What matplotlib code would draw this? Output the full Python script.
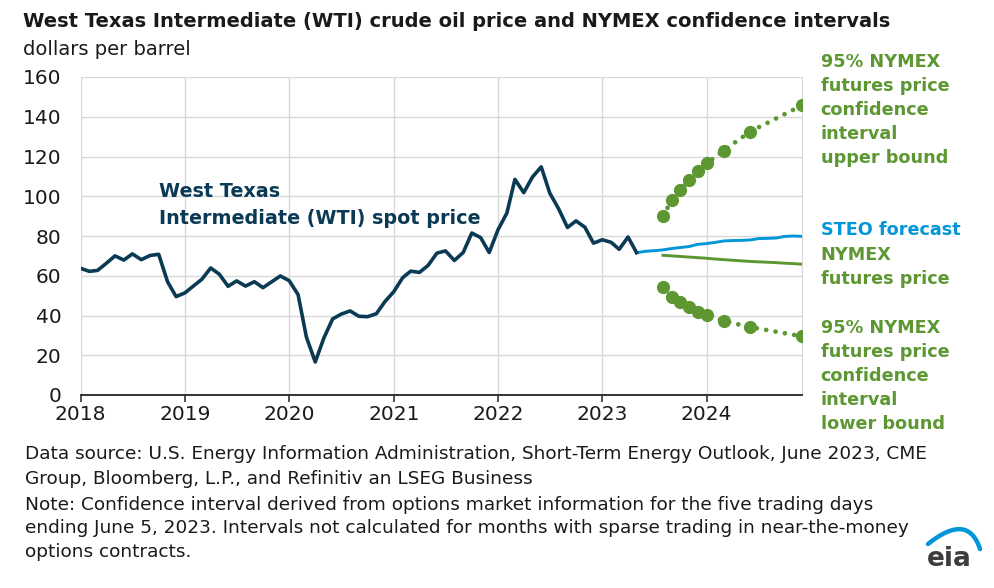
#!/usr/bin/env python3

import matplotlib
matplotlib.use("Agg")
import matplotlib.pyplot as plt
import matplotlib.dates as mdates
import numpy as np
import pandas as pd

# monthly WTI spot price, Jan 2018 - May 2023
wti_months = pd.date_range("2018-01-01", "2023-05-01", freq="MS")
wti_price = [
    63.7, 62.2, 62.7, 66.3, 70.0, 67.9, 71.0, 68.1, 70.2, 70.8, 57.0, 49.5,
    51.4, 55.0, 58.2, 63.9, 60.8, 54.7, 57.4, 54.8, 57.0, 54.0, 57.0, 59.9,
    57.5, 50.5, 29.2, 16.6, 28.6, 38.3, 40.7, 42.3, 39.6, 39.4, 40.9, 47.0,
    52.0, 59.0, 62.3, 61.7, 65.2, 71.4, 72.5, 67.7, 71.7, 81.5, 79.2, 71.7,
    83.2, 91.6, 108.5, 101.8, 109.6, 114.8, 101.6, 93.7, 84.3, 87.6, 84.4, 76.4,
    78.1, 76.8, 73.3, 79.5, 71.6,
]

# STEO forecast, May 2023 - Dec 2024
steo_months = pd.date_range("2023-05-01", "2024-12-01", freq="MS")
steo_price = [
    71.6, 72.3, 72.6, 73.0, 73.7, 74.2, 74.7, 75.8, 76.2, 76.8,
    77.5, 77.7, 77.8, 78.0, 78.7, 78.8, 79.0, 79.8, 80.0, 79.8,
]

# NYMEX futures, Aug 2023 - Dec 2024
fut_months = pd.date_range("2023-08-01", "2024-12-01", freq="MS")
fut_price = [
    70.3, 70.0, 69.7, 69.4, 69.1, 68.8, 68.4, 68.1, 67.8,
    67.5, 67.2, 67.0, 66.8, 66.6, 66.3, 66.1, 65.8,
]

# 95% confidence interval (only months with enough trading)
ci_months = pd.to_datetime([
    "2023-08-01", "2023-09-01", "2023-10-01", "2023-11-01", "2023-12-01",
    "2024-01-01", "2024-03-01", "2024-06-01", "2024-12-01",
])
ci_upper = [90.0, 98.0, 103.0, 108.0, 112.5, 116.5, 123.0, 132.5, 145.8]
ci_lower = [54.2, 49.5, 46.7, 44.2, 42.0, 40.3, 37.2, 34.2, 29.5]

year_ticks = pd.date_range("2018-01-01", "2024-01-01", freq="YS")
y_ticks = np.arange(0, 161, 20)

NAVY = "#0b3a55"
BLUE = "#0096d7"
GREEN = "#5d9732"
TXT = "#1a1a1a"

W, H = 994, 588


def fx(px):
    return px / W


def fy(py):
    return 1 - py / H


def _main():
    plt.rcParams["font.family"] = ["DejaVu Sans"]
    fig = plt.figure(figsize=(W / 100, H / 100), dpi=100)
    ax = fig.add_axes([fx(80.7), fy(395), fx(802.3 - 80.7), (395 - 77) / H])

    ax.plot(wti_months, wti_price, color=NAVY, lw=2.6, solid_joinstyle="round", zorder=4)
    ax.plot(steo_months, steo_price, color=BLUE, lw=2.1, zorder=3)
    ax.plot(fut_months, fut_price, color=GREEN, lw=2.1, zorder=3)
    for vals in (ci_upper, ci_lower):
        ax.plot(ci_months, vals, color=GREEN, lw=3.4, linestyle=(0, (0.01, 2.0)),
                dash_capstyle="round", zorder=3)
        ax.plot(ci_months, vals, linestyle="none", marker="o", ms=8.5,
                color=GREEN, zorder=3)

    ax.set_xlim(pd.Timestamp("2018-01-01"), pd.Timestamp("2024-12-01"))
    ax.set_ylim(0, 160)
    ax.set_xticks(year_ticks)
    ax.xaxis.set_major_formatter(mdates.DateFormatter("%Y"))
    ax.set_yticks(y_ticks)
    ax.grid(True, color="#d9d9d9", lw=1)
    ax.set_axisbelow(True)
    for s in ("left", "top"):
        ax.spines[s].set_visible(False)
    ax.spines["right"].set_color("#d9d9d9")
    ax.spines["bottom"].set_color("#333333")
    ax.spines["bottom"].set_linewidth(1.4)
    ax.tick_params(axis="x", direction="out", length=5, width=1.2, color="#333333",
                   labelsize=14.5, labelcolor=TXT, pad=2)
    ax.tick_params(axis="y", length=0, labelsize=14.5, labelcolor=TXT, pad=14)

    fig.text(fx(23), fy(27.3), "West Texas Intermediate (WTI) crude oil price and NYMEX confidence intervals",
             fontsize=14.0, fontweight="bold", color=TXT, va="baseline")
    fig.text(fx(23), fy(55), "dollars per barrel", fontsize=14, color=TXT, va="baseline")

    fig.text(fx(159), fy(197.3), "West Texas", fontsize=13.8, fontweight="bold", color=NAVY, va="baseline")
    fig.text(fx(159), fy(224), "Intermediate (WTI) spot price", fontsize=13.8, fontweight="bold",
             color=NAVY, va="baseline")

    right_labels = [
        ("95% NYMEX", 67.3, GREEN), ("futures price", 91.3, GREEN), ("confidence", 115.3, GREEN),
        ("interval", 139.3, GREEN), ("upper bound", 163.3, GREEN),
        ("STEO forecast", 235, BLUE), ("NYMEX", 259.5, GREEN), ("futures price", 283.5, GREEN),
        ("95% NYMEX", 332.7, GREEN), ("futures price", 356.7, GREEN), ("confidence", 380.7, GREEN),
        ("interval", 404.7, GREEN), ("lower bound", 428.7, GREEN),
    ]
    for txt, ypx, col in right_labels:
        fig.text(fx(820.7), fy(ypx), txt, fontsize=12.7, fontweight="bold", color=col, va="baseline")

    notes = [
        ("Data source: U.S. Energy Information Administration, Short-Term Energy Outlook, June 2023, CME", 459.3),
        ("Group, Bloomberg, L.P., and Refinitiv an LSEG Business", 484),
        ("Note: Confidence interval derived from options market information for the five trading days", 510),
        ("ending June 5, 2023. Intervals not calculated for months with sparse trading in near-the-money", 533.3),
        ("options contracts.", 556.7),
    ]
    for txt, ypx in notes:
        fig.text(fx(25), fy(ypx), txt, fontsize=13.3, color=TXT, va="baseline")

    # eia logo
    fig.text(fx(949), fy(566), "eia", fontsize=19, fontweight="bold", color="#3d3d3d",
             ha="center", va="baseline")
    lax = fig.add_axes([0, 0, 1, 1], facecolor="none")
    t = np.linspace(0, 1, 40)
    bx = (1 - t) ** 2 * 928 + 2 * t * (1 - t) * 968 + t ** 2 * 980
    by = (1 - t) ** 2 * 544 + 2 * t * (1 - t) * 512 + t ** 2 * 549
    lax.plot(bx, by, color=BLUE, lw=3.2, solid_capstyle="round")
    lax.set_xlim(0, W)
    lax.set_ylim(H, 0)
    lax.axis("off")

    fig.savefig("out.png", dpi=100)


if __name__ == "__main__":
    _main()
